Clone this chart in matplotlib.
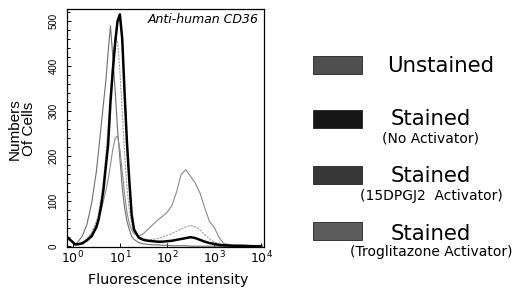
import matplotlib
matplotlib.use("Agg")
import matplotlib.pyplot as plt
from matplotlib.patches import Rectangle
from matplotlib.ticker import MultipleLocator, LogLocator, NullFormatter
import numpy as np

plt.rcParams["font.family"] = ["Liberation Sans", "DejaVu Sans"]

# log10 of fluorescence intensity (bin centres)
log_fi = [-0.1, 0.0, 0.05, 0.1, 0.2, 0.3, 0.4, 0.5, 0.55, 0.6, 0.65, 0.7, 0.75, 0.8,
          0.85, 0.9, 0.95, 1.0, 1.05, 1.1, 1.15, 1.2, 1.25, 1.3, 1.4, 1.5, 1.6, 1.7,
          1.8, 1.9, 2.0, 2.1, 2.2, 2.3, 2.4, 2.5, 2.6, 2.7, 2.8, 2.9, 3.0, 3.1, 3.2,
          3.4, 3.6, 3.8, 4.0]

unstained = [20, 10, 5, 8, 22, 48, 95, 165, 214, 265, 315, 365, 430, 490,
             420, 345, 260, 195, 130, 85, 55, 37, 22, 15, 8, 5, 4, 3,
             3, 2, 2, 1, 1, 1, 1, 0, 0, 0, 0, 0, 0, 0, 0,
             0, 0, 0, 0]
no_activator = [18, 9, 4, 4, 6, 13, 22, 42, 60, 88, 125, 175, 225, 320,
                390, 452, 500, 515, 460, 340, 230, 145, 70, 37, 19, 14, 12, 11,
                10, 10, 11, 12, 14, 16, 18, 20, 18, 14, 10, 7, 5, 3, 2,
                1, 1, 0, 0]
dpgj2 = [19, 9, 5, 5, 8, 16, 30, 55, 75, 105, 145, 200, 265, 340,
         410, 465, 455, 390, 300, 205, 130, 80, 50, 33, 22, 16, 14, 15,
         17, 20, 24, 28, 33, 38, 43, 46, 43, 36, 26, 16, 9, 5, 3,
         1, 0, 0, 0]
troglitazone = [21, 10, 5, 5, 8, 15, 28, 48, 62, 80, 100, 122, 148, 180,
                215, 240, 245, 215, 165, 115, 75, 50, 36, 28, 22, 28, 38, 48,
                58, 66, 75, 90, 120, 160, 170, 155, 140, 118, 85, 55, 42, 20, 6,
                2, 1, 0, 0]

series_names = ["Unstained", "Stained", "Stained", "Stained"]
series_notes = ["", "(No Activator)", "(15DPGJ2  Activator)", "(Troglitazone Activator)"]
patch_colors = ["#4f4f4f", "#161616", "#363636", "#5c5c5c"]

fig = plt.figure(figsize=(5.2, 2.9), dpi=100)
ax = fig.add_axes([0.129, 0.148, 0.379, 0.821])

x = 10 ** np.array(log_fi)
ax.plot(x, unstained, color="#6e6e6e", lw=0.8)
ax.plot(x, troglitazone, color="#8a8a8a", lw=0.8)
ax.plot(x, dpgj2, color="#a0a0a0", lw=0.8, ls=(0, (2, 1)))
ax.plot(x, no_activator, color="black", lw=1.8)

ax.set_xscale("log")
ax.set_xlim(10 ** -0.12, 10 ** 4.06)
ax.set_ylim(-2, 527)
ax.set_xticks([1, 10, 100, 1000, 10000])
ax.set_xticklabels([r"$10^0$", r"$10^1$", r"$10^2$", r"$10^3$", r"$10^4$"], fontsize=9)
ax.xaxis.set_minor_locator(LogLocator(base=10, subs=np.arange(2, 10)))
ax.xaxis.set_minor_formatter(NullFormatter())
ax.yaxis.set_major_locator(MultipleLocator(100))
ax.yaxis.set_minor_locator(MultipleLocator(20))
for lab in ax.get_yticklabels():
    lab.set_rotation(90)
    lab.set_va("center")
    lab.set_fontsize(7)
ax.tick_params(which="both", direction="in", width=0.7)
ax.tick_params(which="major", length=3, pad=2)
ax.tick_params(axis="y", which="major", pad=6)
ax.tick_params(which="minor", length=1.8)
for s in ax.spines.values():
    s.set_linewidth(0.9)

ax.text(0.97, 0.955, "Anti-human CD36", transform=ax.transAxes, ha="right",
        va="center", style="italic", fontsize=9, family="DejaVu Sans")

fig.text(168 / 520, 1 - 280 / 290, "Fluorescence intensity", ha="center",
         va="center", fontsize=10.3, family="DejaVu Sans")
fig.text(22 / 520, 1 - 129 / 290, "Numbers\nOf Cells", rotation=90, ha="center",
         va="center", fontsize=11, linespacing=1.0)

# legend block on the right
patch_tops = [56, 110, 166, 222]
name_y = [66, 119, 176, 234]
note_y = [None, 138, 196, 252]
for i in range(4):
    top = patch_tops[i]
    fig.add_artist(Rectangle((313 / 520, 1 - (top + 18) / 290), 49 / 520, 18 / 290,
                             transform=fig.transFigure, facecolor=patch_colors[i],
                             edgecolor="#222222", lw=0.6))
    cx = 441 / 520 if i == 0 else 431 / 520
    fig.text(cx, 1 - name_y[i] / 290, series_names[i], ha="center", va="center",
             fontsize=15.3, family="DejaVu Sans")
    if series_notes[i]:
        fig.text(431 / 520, 1 - note_y[i] / 290, series_notes[i], ha="center",
                 va="center", fontsize=10, family="DejaVu Sans")

fig.savefig("out.png", dpi=100)
